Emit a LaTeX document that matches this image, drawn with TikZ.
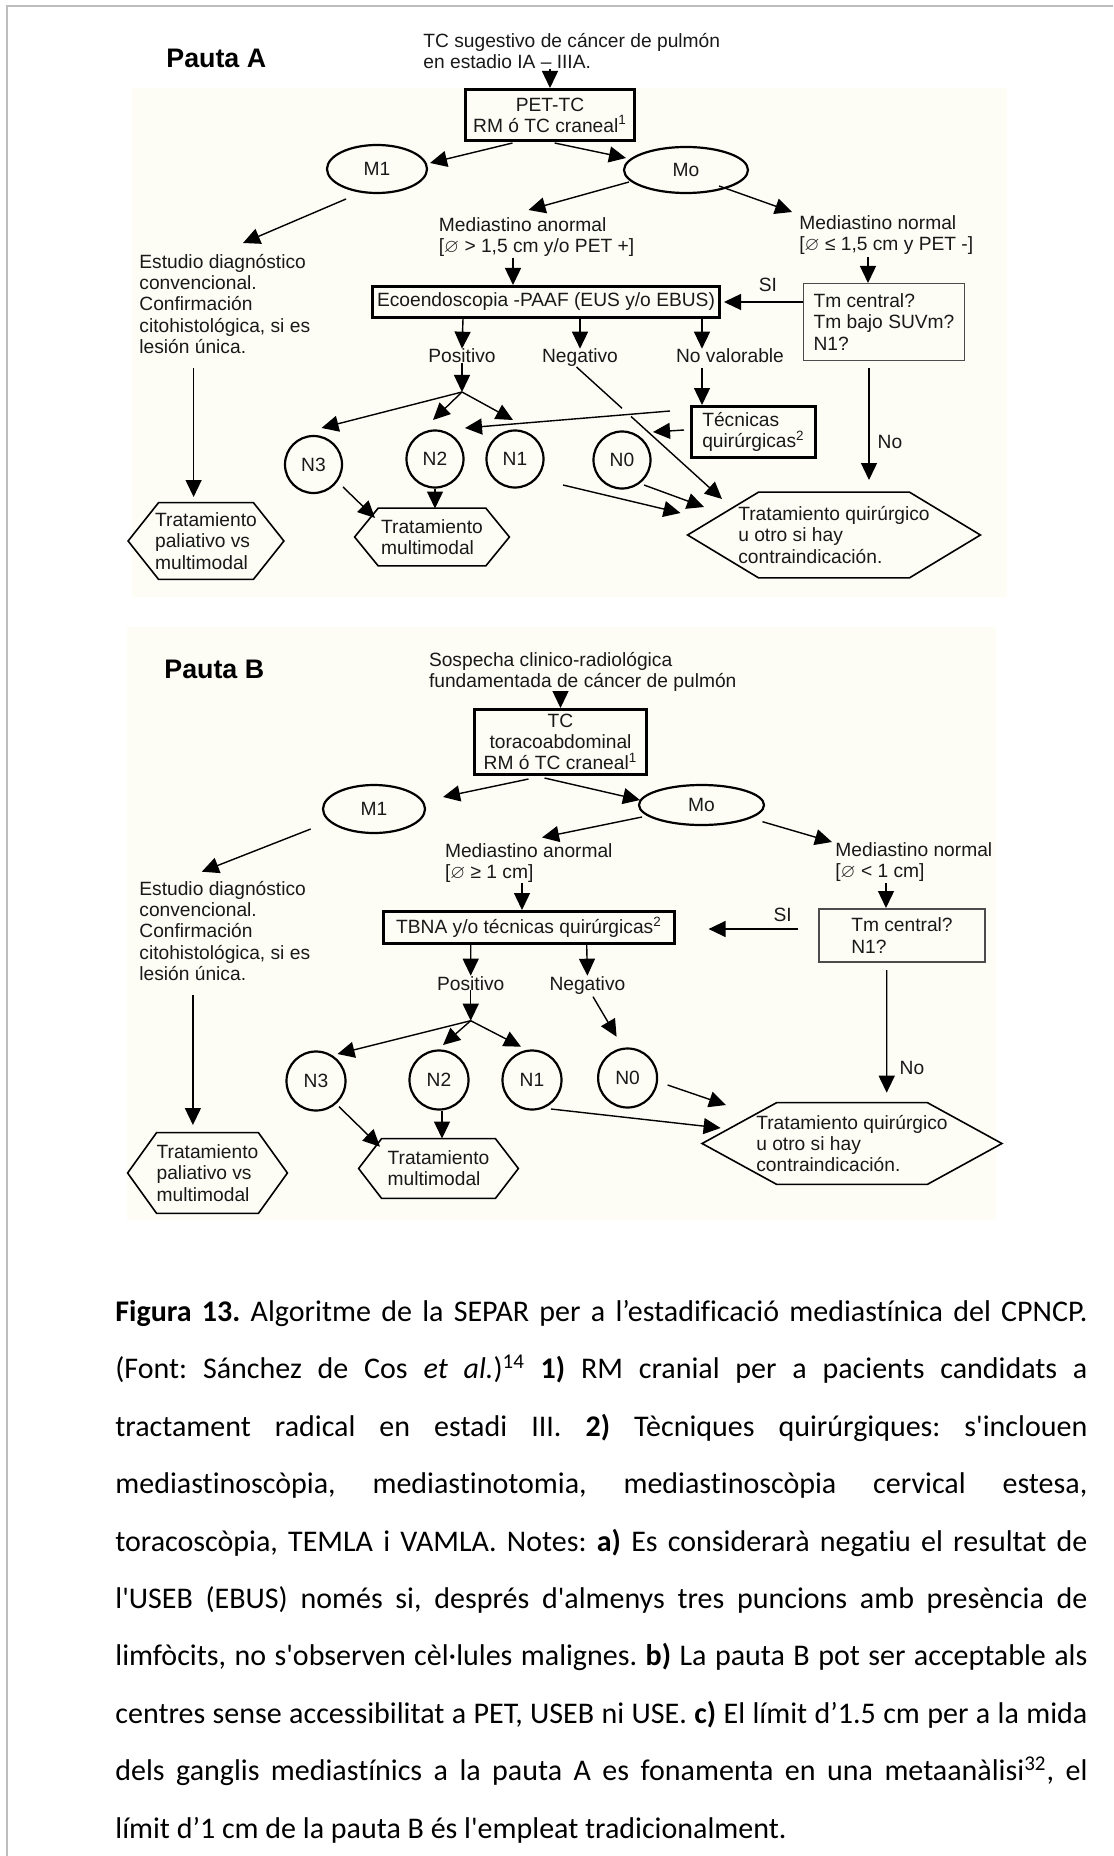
\documentclass[tikz,border=0pt]{standalone}
\usepackage{fontspec}
\usepackage{amssymb}
\setmainfont{Liberation Sans}
\newfontfamily\capfont{Carlito}[Ligatures={TeX,NoCommon}]
\usetikzlibrary{shapes.geometric,arrows.meta,calc}

\definecolor{cream}{RGB}{253,253,246}
\definecolor{framegray}{RGB}{190,190,190}
\definecolor{inkgray}{RGB}{25,25,25}

\newcommand{\diam}{$\varnothing$}
\newcommand{\apos}{\textquotesingle}
\newcommand{\hexframe}[2]{%
  \draw[hexline] (#1.west) -- ($(#1.north west)+(#2,0)$) -- ($(#1.north east)+(-#2,0)$)
    -- (#1.east) -- ($(#1.south east)+(-#2,0)$) -- ($(#1.south west)+(#2,0)$) -- cycle ;}

\tikzset{
  arr/.style={-{Triangle[length=8.5pt,width=8pt]}, line width=0.7pt},
  lbl/.style={inner sep=0pt, align=left, text=inkgray},
  thickbox/.style={draw, line width=1.7pt, inner sep=0pt, align=center, text=inkgray},
  thinbox/.style={draw=black!70, line width=0.9pt, inner sep=0pt, align=left, text=inkgray},
  oval/.style={ellipse, draw, line width=1.1pt, inner sep=0pt, text=inkgray},
  stage/.style={circle, draw, line width=1.1pt, inner sep=0pt, text=inkgray},
  hexnode/.style={inner sep=0pt, align=left, text=inkgray},
  hexline/.style={line width=0.8pt},
  pauta/.style={inner sep=0pt, font=\fontsize{13.4pt}{16pt}\selectfont\bfseries}
}

\begin{document}
\begin{tikzpicture}[x=0.5pt,y=-0.5pt,font=\fontsize{9.6pt}{10.6pt}\selectfont]
\useasboundingbox (0,0) rectangle (1113,1856) ;
\fill[cream] (132,88) rectangle (1007,597) ;
\fill[cream] (127,627) rectangle (996,1220) ;
\draw[framegray,line width=1pt] (6.5,1856) -- (6.5,6.5) -- (1113,6.5) ;

% Pauta A
\node[pauta,anchor=base west] (titA) at (166,68) {Pauta A} ;
\node[lbl,anchor=north west] (topA) at (423,33) {TC sugestivo de cáncer de pulmón\\en estadio IA – IIIA.} ;
\node[thickbox,minimum width=84.3pt,minimum height=25.3pt] (petA) at (550,115) {PET-TC\\RM ó TC craneal\textsuperscript{1}} ;
\node[oval,minimum width=50pt,minimum height=24pt] (m1A) at (377,169) {M1} ;
\node[oval,minimum width=62pt,minimum height=23pt] (m0A) at (686,170) {Mo} ;
\node[lbl,anchor=north west] (estA) at (139,254) {Estudio diagnóstico\\convencional.\\Confirmación\\citohistológica, si es\\lesión única.} ;
\node[lbl,anchor=north west] (medabA) at (438.5,217) {Mediastino anormal\\{[}\diam{} > 1,5 cm y/o PET +]} ;
\node[lbl,anchor=north west] (mednoA) at (799,215) {Mediastino normal\\{[}\diam{} ≤ 1,5 cm y PET -]} ;
\node[thickbox,minimum width=173.5pt,minimum height=15.5pt] (ecoA) at (546,302) {Ecoendoscopia -PAAF (EUS y/o EBUS)} ;
\node[thinbox,minimum width=80.5pt,minimum height=38.5pt] (tmA) at (884,322) {Tm central?\\Tm bajo SUVm?\\N1?} ;
\node[lbl,anchor=base] (siA) at (768,292) {SI} ;
\node[lbl,anchor=base] (posA) at (462,363) {Positivo} ;
\node[lbl,anchor=base] (negA) at (580,363) {Negativo} ;
\node[lbl,anchor=base] (novA) at (730,363) {No valorable} ;
\node[thickbox,align=left,minimum width=62pt,minimum height=25.5pt] (tecA) at (753.5,432) {Técnicas\\quirúrgicas\textsuperscript{2}} ;
\coordinate (jA) at (462,392) ;
\node[stage,minimum size=28.5pt] (n3A) at (313.5,464.5) {N3} ;
\node[stage,minimum size=28.5pt] (n2A) at (435,459) {N2} ;
\node[stage,minimum size=28.5pt] (n1A) at (515,459) {N1} ;
\node[stage,minimum size=28.5pt] (n0A) at (622,460) {N0} ;
\node[hexnode,minimum width=77.5pt,minimum height=38pt] (hexpA) at (206,541) {Tratamiento\\paliativo vs\\multimodal} ;
\node[hexnode,minimum width=77pt,minimum height=28.5pt] (hexmA) at (432,537) {Tratamiento\\multimodal} ;
\node[hexnode,minimum width=146pt,minimum height=42.5pt] (hexqA) at (834,535) {Tratamiento quirúrgico\\u otro si hay\\contraindicación.} ;
\hexframe{hexpA}{30.5}
\hexframe{hexmA}{23.6}
\hexframe{hexqA}{71}
\node[lbl,anchor=base] (noA) at (890,448) {No} ;

\draw[arr] (petA.north |- topA.south) -- (petA.north) ;
\draw[arr] ($(petA)+(-37.5,28)$) -- ($(m1A)+(53,-6)$) ;
\draw[arr] ($(petA)+(4.6,28)$) -- ($(m0A)+(-60,-12)$) ;
\draw[arr] ($(m1A)+(-31,30)$) -- ($(estA.north west)+(104,-11)$) ;
\draw[arr] ($(m0A)+(-57,12)$) -- ($(medabA.north west)+(90,-7)$) ;
\draw[arr] ($(m0A)+(33,16)$) -- ($(mednoA.north west)+(-7,-3)$) ;
\draw[arr] ($(medabA.north west)+(74.5,41)$) -- ($(ecoA)+(-33,-17)$) ;
\draw[arr] ($(mednoA.north west)+(69,42)$) -- ($(tmA)+(-16,-39)$) ;
\draw[arr] ($(tmA)+(-81,-20)$) -- ($(ecoA)+(178,0)$) ;
\draw[arr] ($(ecoA)+(-83,17)$) -- (posA.north) ;
\draw[arr] ($(ecoA)+(34,17)$) -- (negA.north) ;
\draw[arr] ($(ecoA)+(156,17)$) -- ($(novA.north)+(-28,0)$) ;
\draw[arr] ($(novA.base)+(-28,5)$) -- ($(tecA)+(-51.5,-27)$) ;
\draw[arr] (posA.base) -- (jA) ;
\draw[arr] (jA) -- ($(n3A)+(8,-36.5)$) ;
\draw[arr] (jA) -- ($(n2A)+(-2,-39)$) ;
\draw[arr] (jA) -- ($(n1A)+(-2,-39)$) ;
\draw[arr] ($(tecA)+(-83.5,-21)$) -- ($(n2A)+(30,-31)$) ;
\draw[arr] ($(tecA)+(-69.5,-2)$) -- ($(n0A)+(31,-28)$) ;
\draw[arr,dash pattern=on 30.7pt off 6.1pt on 200pt off 1pt] ($(negA.base)+(-3.5,4)$) -- ($(hexqA)+(-112,-36)$) ;
\draw[arr] ($(n0A)+(22,25)$) -- ($(hexqA)+(-130,-28)$) ;
\draw[arr] ($(n1A)+(48,26)$) -- ($(hexqA)+(-153.5,-22)$) ;
\draw[arr] ($(tmA)+(-15,46)$) -- ($(hexqA)+(35,-55)$) ;
\draw[arr] ($(n3A)+(29.5,22.5)$) -- ($(hexmA)+(-57,-19)$) ;
\draw[arr] (n2A.south) -- ($(hexmA)+(3,-28.5)$) ;
\draw[arr] ($(estA.north west)+(54.6,114)$) -- ($(hexpA)+(-12.4,-44)$) ;

% Pauta B
\node[pauta,anchor=base west] (titB) at (164,678) {Pauta B} ;
\node[lbl,anchor=north west] (topB) at (428.6,652) {Sospecha clinico-radiológica\\fundamentada de cáncer de pulmón} ;
\node[thickbox,minimum width=85.8pt,minimum height=32.3pt] (tcB) at (560.5,742) {TC\\toracoabdominal\\RM ó TC craneal\textsuperscript{1}} ;
\node[oval,minimum width=51pt,minimum height=24pt] (m1B) at (374,809) {M1} ;
\node[oval,minimum width=62.5pt,minimum height=20pt] (m0B) at (701.5,805) {Mo} ;
\node[lbl,anchor=north west] (estB) at (139,881) {Estudio diagnóstico\\convencional.\\Confirmación\\citohistológica, si es\\lesión única.} ;
\node[lbl,anchor=north west] (medabB) at (444.6,843) {Mediastino anormal\\{[}\diam{} ≥ 1 cm]} ;
\node[lbl,anchor=north west] (mednoB) at (835,842) {Mediastino normal\\{[}\diam{} < 1 cm]} ;
\node[thickbox,minimum width=145.5pt,minimum height=16pt] (tbnaB) at (529,927.5) {TBNA y/o técnicas quirúrgicas\textsuperscript{2}} ;
\node[thinbox,minimum width=83.3pt,minimum height=26.8pt] (tmB) at (902,935.5) {Tm central?\\N1?} ;
\node[lbl,anchor=base] (siB) at (782.7,921) {SI} ;
\node[lbl,anchor=base] (posB) at (470.7,990) {Positivo} ;
\node[lbl,anchor=base] (negB) at (587.4,990) {Negativo} ;
\coordinate (jB) at (470.7,1020.7) ;
\node[stage,minimum size=29.5pt] (n3B) at (316,1081) {N3} ;
\node[stage,minimum size=29.5pt] (n2B) at (439,1080) {N2} ;
\node[stage,minimum size=29.5pt] (n1B) at (532,1080) {N1} ;
\node[stage,minimum size=29.5pt] (n0B) at (627.6,1078) {N0} ;
\node[hexnode,minimum width=79.5pt,minimum height=40pt] (hexpB) at (207.5,1173) {Tratamiento\\paliativo vs\\multimodal} ;
\node[hexnode,minimum width=79.5pt,minimum height=29.5pt] (hexmB) at (438.5,1168.5) {Tratamiento\\multimodal} ;
\node[hexnode,minimum width=149.5pt,minimum height=40.5pt] (hexqB) at (852,1143.5) {Tratamiento quirúrgico\\u otro si hay\\contraindicación.} ;
\hexframe{hexpB}{29}
\hexframe{hexmB}{23}
\hexframe{hexqB}{74.6}
\node[lbl,anchor=base] (noB) at (912,1074) {No} ;

\draw[arr] (tcB.north |- topB.south) -- (tcB.north) ;
\draw[arr] ($(tcB)+(-32,37)$) -- ($(m1B)+(69,-12)$) ;
\draw[arr] ($(tcB)+(-16,36)$) -- ($(m0B)+(-61.5,-5)$) ;
\draw[arr] ($(m1B)+(-63.3,20)$) -- ($(estB.north west)+(62.8,-9.3)$) ;
\draw[arr] ($(m0B)+(-59.5,12)$) -- ($(medabB.north west)+(97.4,-5.5)$) ;
\draw[arr] ($(m0B)+(61,16.7)$) -- ($(mednoB.north west)+(-3,0)$) ;
\draw[arr] ($(medabB.north west)+(77.4,40)$) -- ($(tbnaB)+(-7,-17.5)$) ;
\draw[arr] ($(mednoB.north west)+(51,41)$) -- ($(tmB)+(-16,-27.5)$) ;
\draw[arr] ($(tmB)+(-104,-6.5)$) -- ($(tbnaB)+(179.6,1.5)$) ;
\draw[arr] ($(tbnaB)+(-58.3,17.5)$) -- (posB.north) ;
\draw[arr] ($(tbnaB)+(57.7,17.5)$) -- (negB.north) ;
\draw[arr] (posB.base) -- (jB) ;
\draw[arr] (jB) -- ($(n3B)+(21.5,-27)$) ;
\draw[arr] (jB) -- ($(n2B)+(4,-35)$) ;
\draw[arr] (jB) -- ($(n1B)+(-11,-33.3)$) ;
\draw[arr] ($(negB.base)+(5.6,6.7)$) -- ($(n0B)+(-11,-41.3)$) ;
\draw[arr] ($(n0B)+(40,7)$) -- ($(hexqB)+(-126,-38.5)$) ;
\draw[arr] ($(n1B)+(19,29)$) -- ($(hexqB)+(-131.4,-15.5)$) ;
\draw[arr] ($(tmB)+(-15.3,34.5)$) -- ($(hexqB)+(34.7,-50.8)$) ;
\draw[arr] ($(n3B)+(23,25.7)$) -- ($(hexmB)+(-58.5,-21.8)$) ;
\draw[arr] ($(n2B.south)+(3,0)$) -- ($(hexmB)+(3.5,-30)$) ;
\draw[arr] ($(estB.north west)+(53.9,114)$) -- ($(hexpB)+(-14.6,-48)$) ;

% caption
\node[anchor=north west,inner sep=0pt,text width=486pt,align=justify,
  font=\capfont\fontsize{15pt}{28.7pt}\selectfont] (capt) at (115,1300) {%
\frenchspacing\tolerance=10000\hyphenpenalty=10000\exhyphenpenalty=10000
{\bfseries Figura 13.} Algoritme de la SEPAR per a l’estadificació mediastínica del CPNCP.\linebreak
(Font: Sánchez de Cos \textit{et al.})\textsuperscript{14} {\bfseries 1)} RM cranial per a pacients candidats a\linebreak
tractament radical en estadi III. {\bfseries 2)} Tècniques quirúrgiques: s\apos inclouen\linebreak
mediastinoscòpia, mediastinotomia, mediastinoscòpia cervical estesa,\linebreak
toracoscòpia, TEMLA i VAMLA. Notes: {\bfseries a)} Es considerarà negatiu el resultat de\linebreak
l\apos USEB (EBUS) només si, després d\apos almenys tres puncions amb presència de\linebreak
limfòcits, no s\apos observen cèl·lules malignes. {\bfseries b)} La pauta B pot ser acceptable als\linebreak
centres sense accessibilitat a PET, USEB ni USE. {\bfseries c)} El límit d’1.5 cm per a la mida\linebreak
dels ganglis mediastínics a la pauta A es fonamenta en una metaanàlisi\textsuperscript{32}, el\linebreak
límit d’1 cm de la pauta B és l\apos empleat tradicionalment.} ;
\end{tikzpicture}
\end{document}
